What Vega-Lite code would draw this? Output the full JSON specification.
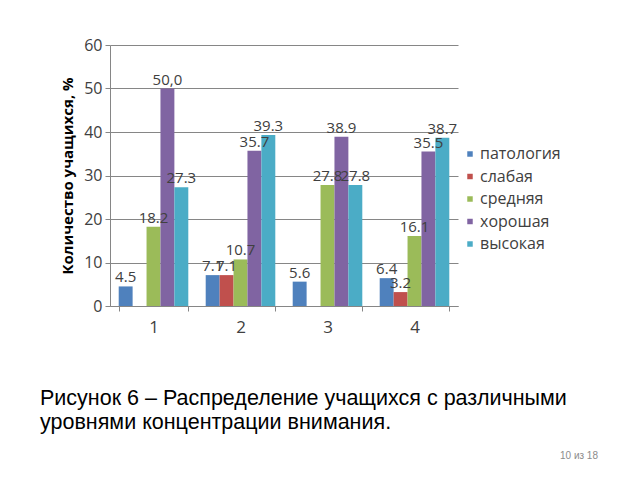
{
  "$schema": "https://vega.github.io/schema/vega-lite/v6.json",
  "autosize": {"type": "none"},
  "width": 348,
  "height": 261,
  "padding": {"left": 110, "top": 45, "right": 182, "bottom": 174},
  "background": "white",
  "config": {
    "view": {"stroke": null},
    "font": "Open Sans"
  },
  "data": {
    "values": [
      {"group": "1", "series": "патология", "value": 4.5, "label": "4.5"},
      {"group": "1", "series": "средняя", "value": 18.2, "label": "18.2"},
      {"group": "1", "series": "хорошая", "value": 50.0, "label": "50,0"},
      {"group": "1", "series": "высокая", "value": 27.3, "label": "27.3"},
      {"group": "2", "series": "патология", "value": 7.1, "label": "7.1"},
      {"group": "2", "series": "слабая", "value": 7.1, "label": "7.1"},
      {"group": "2", "series": "средняя", "value": 10.7, "label": "10.7"},
      {"group": "2", "series": "хорошая", "value": 35.7, "label": "35.7"},
      {"group": "2", "series": "высокая", "value": 39.3, "label": "39.3"},
      {"group": "3", "series": "патология", "value": 5.6, "label": "5.6"},
      {"group": "3", "series": "средняя", "value": 27.8, "label": "27.8"},
      {"group": "3", "series": "хорошая", "value": 38.9, "label": "38.9"},
      {"group": "3", "series": "высокая", "value": 27.8, "label": "27.8"},
      {"group": "4", "series": "патология", "value": 6.4, "label": "6.4"},
      {"group": "4", "series": "слабая", "value": 3.2, "label": "3.2"},
      {"group": "4", "series": "средняя", "value": 16.1, "label": "16.1"},
      {"group": "4", "series": "хорошая", "value": 35.5, "label": "35.5"},
      {"group": "4", "series": "высокая", "value": 38.7, "label": "38.7"}
    ]
  },
  "encoding": {
    "x": {
      "field": "group",
      "type": "nominal",
      "scale": {"paddingInner": 0.2, "paddingOuter": 0.1},
      "axis": {
        "title": null,
        "labelAngle": 0,
        "labelFontSize": 17,
        "labelColor": "#404040",
        "labelPadding": 8,
        "domainColor": "#868686",
        "tickColor": "#868686",
        "tickBand": "extent",
        "tickSize": 5,
        "grid": false
      }
    },
    "xOffset": {
      "field": "series",
      "type": "nominal",
      "sort": ["патология", "слабая", "средняя", "хорошая", "высокая"]
    },
    "y": {
      "field": "value",
      "type": "quantitative",
      "scale": {"domain": [0, 60], "nice": false},
      "axis": {
        "title": "Количество учащихся, %",
        "titleFontSize": 15,
        "titleFontWeight": "bold",
        "titleColor": "#000000",
        "titlePadding": 8,
        "values": [0, 10, 20, 30, 40, 50, 60],
        "labelFontSize": 16,
        "labelColor": "#404040",
        "labelPadding": 3,
        "domainColor": "#868686",
        "tickColor": "#868686",
        "tickSize": 5,
        "gridColor": "#868686",
        "gridWidth": 1
      }
    }
  },
  "layer": [
    {
      "mark": {"type": "bar"},
      "encoding": {
        "color": {
          "field": "series",
          "type": "nominal",
          "sort": ["патология", "слабая", "средняя", "хорошая", "высокая"],
          "scale": {
            "domain": ["патология", "слабая", "средняя", "хорошая", "высокая"],
            "range": ["#4F81BD", "#C0504D", "#9BBB59", "#8064A2", "#4BACC6"]
          },
          "legend": {
            "title": null,
            "orient": "none",
            "legendX": 352,
            "legendY": 101,
            "symbolType": "square",
            "symbolSize": 30,
            "symbolStrokeWidth": 0,
            "labelFontSize": 16,
            "labelColor": "#404040",
            "labelOffset": 2,
            "rowPadding": 6.5
          }
        }
      }
    },
    {
      "mark": {"type": "text", "dy": -9, "fontSize": 15, "color": "#404040"},
      "encoding": {
        "text": {"field": "label"}
      }
    },
    {
      "data": {"values": [{"t": ["Рисунок 6 – Распределение учащихся с различными", "уровнями концентрации внимания."]}]},
      "mark": {"type": "text", "fontSize": 21.5, "color": "#000000", "align": "left", "baseline": "alphabetic", "lineHeight": 24, "font": "Liberation Sans"},
      "encoding": {
        "text": {"field": "t"},
        "x": {"value": -70},
        "y": {"value": 360},
        "xOffset": null
      }
    },
    {
      "data": {"values": [{"t": "10 из 18"}]},
      "mark": {"type": "text", "fontSize": 10, "color": "#8c8c8c", "align": "right", "font": "Liberation Sans"},
      "encoding": {
        "text": {"field": "t"},
        "x": {"value": 488},
        "y": {"value": 411},
        "xOffset": null
      }
    }
  ]
}
